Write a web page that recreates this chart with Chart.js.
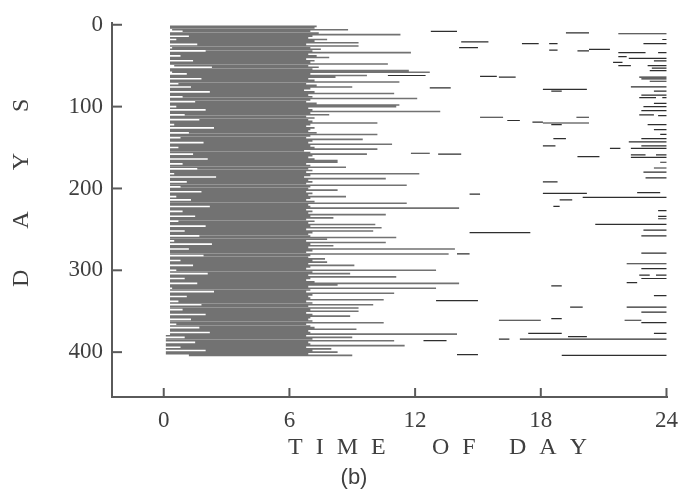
<!DOCTYPE html>
<html>
<head>
<meta charset="utf-8">
<title>Sleep actogram (b)</title>
<script src="https://cdn.jsdelivr.net/npm/chart.js@4.4.1/dist/chart.umd.min.js"></script>
<style>
    html, body { margin: 0; padding: 0; background: #ffffff; }
    #wrap { width: 688px; height: 499px; position: relative; }
</style>
</head>
<body>
<div id="wrap"><canvas id="actogram"></canvas></div>
<script>
// Tick labels
const xTicks = [0, 6, 12, 18, 24];
const yTicks = [0, 100, 200, 300, 400];

// Main sleep episode per row: [day, start hour, end hour] (read every 2nd day)
const mainSleep = [
    [2,0.3,7.3],[4,0.3,7.2],[6,0.4,8.8],[8,0.9,7.0],[10,0.3,7.4],[12,0.3,11.3],[14,1.2,7.1],[16,0.3,6.9],
    [18,0.6,7.8],[20,0.3,7.2],[22,0.3,9.3],[24,1.6,6.8],[26,0.3,9.3],[28,0.4,7.0],[30,0.3,7.5],[32,2.0,7.1],
    [34,0.3,11.8],[36,0.3,6.9],[38,0.8,7.3],[40,0.3,7.9],[42,0.3,6.8],[44,1.4,7.2],[46,0.3,7.0],[48,0.3,10.7],
    [50,0.5,6.9],[52,2.3,7.4],[54,0.3,7.1],[56,0.3,11.7],[58,0.4,12.7],[60,1.1,7.0],[62,0.3,9.7],[64,0.3,8.2],
    [66,1.8,6.9],[68,0.3,7.2],[70,0.3,11.25],[72,0.7,6.8],[74,0.3,7.3],[76,1.3,9.0],[78,0.3,7.0],[80,0.3,6.7],
    [82,2.2,7.2],[84,0.3,11.0],[86,0.3,6.9],[88,0.9,7.1],[90,0.3,12.1],[92,0.3,7.0],[94,1.5,6.8],[96,0.3,7.3],
    [98,0.3,11.25],[100,0.6,11.1],[102,0.3,6.9],[104,2.0,7.1],[106,0.3,13.2],[108,0.3,7.0],[110,1.0,7.9],[112,0.3,6.8],
    [114,0.3,7.2],[116,1.7,6.9],[118,0.3,7.1],[120,0.3,10.2],[122,0.5,7.0],[124,0.3,6.8],[126,2.4,7.2],[128,0.3,7.0],
    [130,0.3,6.9],[132,1.2,7.3],[134,0.3,10.2],[136,0.3,7.0],[138,0.8,6.8],[140,0.3,9.5],[142,0.3,7.1],[144,1.9,6.9],
    [146,0.3,10.9],[148,0.3,7.0],[150,0.7,7.2],[152,0.3,10.2],[154,0.3,6.7],[156,0.3,7.0],[158,1.4,9.7],[160,0.3,7.1],
    [162,0.3,6.9],[164,2.1,7.2],[166,0.3,8.3],[168,0.3,8.3],[170,0.9,6.8],[172,0.3,7.0],[174,0.3,8.7],[176,1.6,6.9],
    [178,0.3,7.1],[180,0.3,6.8],[182,0.5,12.2],[184,0.3,7.0],[186,2.5,6.7],[188,0.3,10.6],[190,0.3,6.9],[192,1.1,7.1],
    [194,0.3,6.8],[196,0.3,11.6],[198,0.8,7.0],[200,0.3,6.9],[202,0.3,8.3],[204,1.8,6.8],[206,0.3,7.1],[208,0.3,6.9],
    [210,0.6,8.7],[212,0.3,7.0],[214,1.3,6.8],[216,0.3,7.2],[218,0.3,11.6],[220,0.3,6.9],[222,2.2,7.0],[224,0.3,14.1],
    [226,0.3,6.8],[228,0.9,7.1],[230,0.3,6.9],[232,0.3,10.6],[234,1.5,7.0],[236,0.3,8.1],[238,0.3,6.8],[240,0.7,7.2],
    [242,0.3,6.9],[244,0.3,10.1],[246,2.0,7.0],[248,0.3,10.4],[250,0.3,6.8],[252,1.0,10.0],[254,0.3,7.1],[256,0.3,6.9],
    [258,1.7,7.0],[260,0.3,11.1],[262,0.3,7.8],[264,0.5,6.8],[266,0.3,10.6],[268,2.3,7.0],[270,0.3,8.1],[272,0.3,6.9],
    [274,1.2,13.9],[276,0.3,7.1],[278,0.3,6.8],[280,0.3,13.6],[282,1.9,7.0],[284,0.3,6.9],[286,0.3,7.7],[288,0.8,7.1],
    [290,0.3,7.8],[292,0.3,6.9],[294,1.4,9.1],[296,0.3,7.0],[298,0.3,6.8],[300,0.6,13.0],[302,0.3,7.1],[304,2.1,8.9],
    [306,0.3,6.9],[308,0.3,11.1],[310,1.0,7.0],[312,0.3,6.8],[314,0.3,7.2],[316,1.6,14.1],[318,0.3,8.3],[320,0.3,6.9],
    [322,0.4,13.0],[324,0.3,7.0],[326,2.4,6.8],[328,0.3,11.0],[330,0.3,7.1],[332,1.1,6.9],[334,0.3,7.0],[336,0.3,10.5],
    [338,0.7,6.8],[340,0.3,7.1],[342,1.8,10.0],[344,0.3,6.9],[346,0.3,9.3],[348,0.9,7.0],[350,0.3,9.3],[352,0.3,6.8],
    [354,2.0,7.1],[356,0.3,8.9],[358,0.3,7.0],[360,1.3,6.9],[362,0.3,7.1],[364,0.3,10.5],[366,0.6,6.8],[368,0.3,7.0],
    [370,1.7,7.2],[372,0.3,9.2],[374,0.3,6.9],[376,2.2,7.0],[378,0.3,14.0],[380,0.1,6.8],[382,1.0,9.0],[384,0.1,7.1],
    [386,0.1,11.0],[388,1.5,6.9],[390,0.1,7.0],[392,0.1,11.5],[394,0.8,6.8],[396,0.1,8.0],[398,2.0,7.1],[400,0.1,8.3],
    [402,0.1,6.9],[404,1.2,9.0]
];

// Naps and other short episodes: [day, start hour, end hour]
const naps = [
    [8,12.75,14.0],[10,19.2,20.3],[11,21.7,24.0],[18,23.8,24.0],[21,14.2,15.5],[23,17.1,17.9],[23,18.4,18.8],
    [23,22.9,24.0],[28,14.1,15.0],[30,20.3,21.3],[31,18.4,18.8],[32,19.75,20.3],[34,21.7,23.0],[34,23.6,24.0],
    [39,21.7,22.1],[41,22.2,24.0],[44,23.4,24.0],[46,21.45,21.9],[50,21.7,22.3],[50,23.1,24.0],[53,23.3,24.0],
    [56,23.2,24.0],[62,10.7,12.5],[63,15.1,15.9],[64,16.0,16.8],[64,22.7,24.0],[66,22.8,24.0],[69,23.2,24.0],
    [76,22.3,24.0],[77,12.7,13.7],[79,18.1,20.2],[81,18.5,19.0],[81,23.4,24.0],[86,22.8,24.0],[89,22.7,23.5],
    [89,23.8,24.0],[96,23.4,24.0],[100,22.9,24.0],[105,22.8,24.0],[110,22.7,23.4],[111,23.6,24.0],[113,15.1,16.2],
    [113,19.7,20.3],[117,16.4,17.0],[119,17.6,18.1],[120,18.1,20.3],[122,18.5,19.0],[122,23.1,24.0],[128,23.4,24.0],
    [134,23.7,24.0],[139,18.6,19.2],[139,22.8,24.0],[143,22.2,24.0],[148,18.1,18.7],[148,22.8,24.0],[151,21.3,21.8],
    [151,22.3,24.0],[157,11.8,12.7],[158,13.1,14.2],[159,22.3,23.0],[159,23.5,24.0],[161,19.75,20.8],[162,22.3,24.0],
    [168,23.7,24.0],[175,23.4,24.0],[180,22.9,24.0],[187,23.0,24.0],[192,18.1,18.8],[205,22.6,23.7],[206,18.1,20.2],
    [207,14.6,15.1],[211,20.0,24.0],[214,18.9,19.5],[222,18.6,18.9],[227,23.6,24.0],[234,23.6,24.0],[237,23.6,24.0],
    [244,20.6,24.0],[251,22.9,24.0],[254,14.6,17.5],[258,22.8,24.0],[279,22.8,24.0],[280,14.0,14.6],[292,22.1,24.0],
    [298,22.8,24.0],[306,22.7,23.2],[306,23.5,24.0],[310,22.8,24.0],[315,22.1,22.6],[319,18.5,19.0],[331,23.4,24.0],
    [337,13.0,15.0],[345,19.4,20.0],[345,22.1,24.0],[351,22.8,24.0],[359,18.5,19.0],[361,16.0,18.0],[361,22.0,22.8],
    [364,22.8,24.0],[377,17.4,19.0],[377,23.4,24.0],[381,19.3,20.2],[384,16.0,16.5],[384,17.0,24.0],[386,12.4,13.5],
    [403,14.0,15.0],[404,19.0,24.0]
];

const textColor = '#3f3f3f';
const axisColor = '#5a5a5a';

// Turn [day, start, end] rows into one broken polyline
function toSegments(rows) {
    const pts = [];
    rows.forEach(r => {
        pts.push({ x: r[1], y: r[0] });
        pts.push({ x: r[2], y: r[0] });
        pts.push({ x: null, y: null });
    });
    return pts;
}

// Inward tick marks and the axis titles
const decorPlugin = {
    id: 'decor',
    afterDraw(chart) {
        const ctx = chart.ctx;
        const area = chart.chartArea;
        const xs = chart.scales.x;
        const ys = chart.scales.y;

        ctx.save();
        ctx.strokeStyle = axisColor;
        ctx.lineWidth = 2;
        yTicks.forEach(v => {
            const py = ys.getPixelForValue(v);
            ctx.beginPath();
            ctx.moveTo(area.left, py);
            ctx.lineTo(area.left + 10, py);
            ctx.stroke();
        });
        xTicks.forEach(v => {
            const px = xs.getPixelForValue(v);
            ctx.beginPath();
            ctx.moveTo(px, area.bottom);
            ctx.lineTo(px, area.bottom - 9);
            ctx.stroke();
        });

        ctx.fillStyle = textColor;
        ctx.font = '24px "Liberation Serif"';
        ctx.textBaseline = 'alphabetic';
        ctx.textAlign = 'left';

        // x title, letter-spaced words
        const words = [['TIME', 288], ['OF', 432], ['DAY', 509]];
        words.forEach(w => {
            let x = w[1];
            for (const ch of w[0]) {
                ctx.fillText(ch, x, 454);
                x += ctx.measureText(ch).width + 13;
            }
        });

        // y title, rotated
        ctx.save();
        ctx.translate(28, 287);
        ctx.rotate(-Math.PI / 2);
        let yPos = 0;
        for (const ch of 'DAYS') {
            ctx.fillText(ch, yPos, 0);
            yPos += ctx.measureText(ch).width + 41;
        }
        ctx.restore();

        // panel label
        ctx.font = '22px "Liberation Sans"';
        ctx.textAlign = 'center';
        ctx.fillText('(b)', 354, 484);
        ctx.restore();
    }
};

const ctx = document.getElementById('actogram').getContext('2d');
new Chart(ctx, {
    type: 'scatter',
    data: {
        datasets: [
            {
                label: 'Main sleep',
                data: toSegments(mainSleep),
                showLine: true,
                spanGaps: false,
                borderColor: '#727272',
                borderWidth: 1.6,
                pointRadius: 0
            },
            {
                label: 'Naps',
                data: toSegments(naps),
                showLine: true,
                spanGaps: false,
                borderColor: '#2e2e2e',
                borderWidth: 1.2,
                pointRadius: 0
            }
        ]
    },
    options: {
        responsive: true,
        maintainAspectRatio: false,
        animation: false,
        layout: { padding: { top: 13, right: 15, left: 0, bottom: 0 } },
        plugins: {
            legend: { display: false },
            tooltip: { enabled: false }
        },
        scales: {
            x: {
                type: 'linear',
                min: -2.47,
                max: 24.03,
                afterBuildTicks: s => { s.ticks = xTicks.map(v => ({ value: v })); },
                afterFit: s => { s.height = 102; },
                grid: { display: false, drawTicks: false, tickLength: 0 },
                border: { display: true, color: axisColor, width: 2 },
                ticks: {
                    padding: 10,
                    color: textColor,
                    font: { family: 'Liberation Serif', size: 23 },
                    maxRotation: 0,
                    autoSkip: false
                }
            },
            y: {
                type: 'linear',
                reverse: true,
                min: -2.4,
                max: 454.8,
                afterBuildTicks: s => { s.ticks = yTicks.map(v => ({ value: v })); },
                afterFit: s => { s.width = 112; },
                grid: { display: false, drawTicks: false, tickLength: 0 },
                border: { display: true, color: axisColor, width: 2 },
                ticks: {
                    padding: 9,
                    color: textColor,
                    font: { family: 'Liberation Serif', size: 23 },
                    autoSkip: false
                }
            }
        }
    },
    plugins: [decorPlugin]
});
</script>
</body>
</html>
